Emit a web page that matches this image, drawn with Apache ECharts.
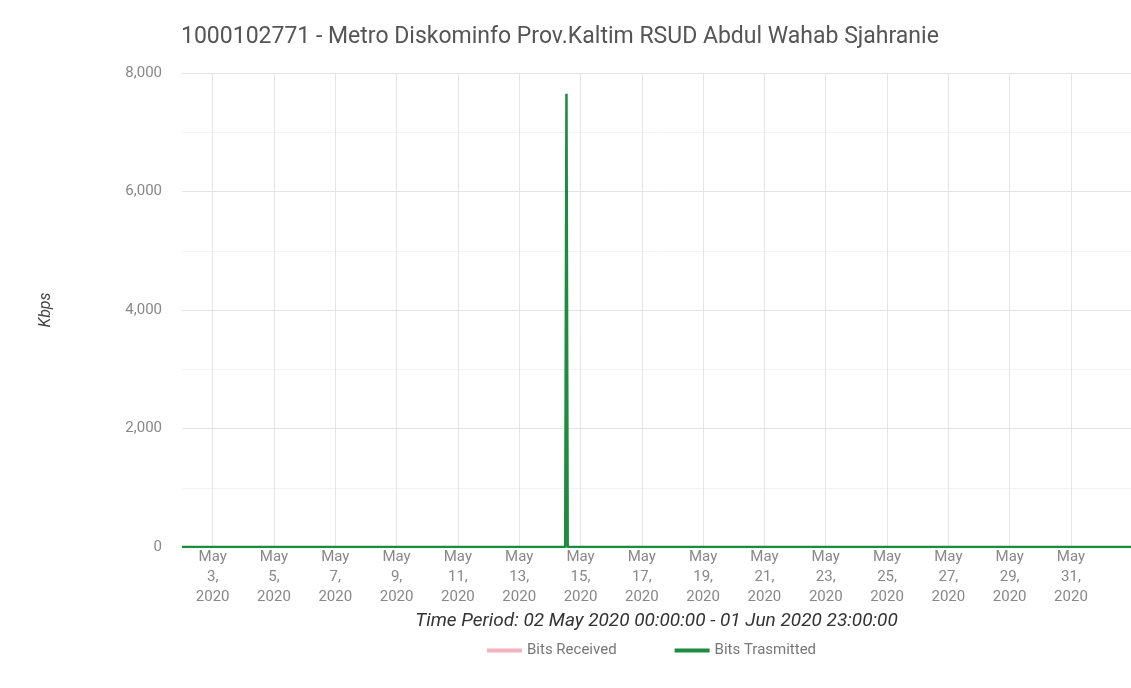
<!DOCTYPE html>
<html>
<head>
<meta charset="utf-8">
<title>Bandwidth</title>
<script src="https://cdn.jsdelivr.net/npm/echarts@6/dist/echarts.min.js"></script>
<style>
  * { margin: 0; padding: 0 }
  html, body { width: 100%; height: 100%; background: #fff; }
  #main { width: 1131px; height: 688px; }
</style>
</head>
<body>
<div id="main"></div>
<script>
  var chartTitle = '1000102771 - Metro Diskominfo Prov.Kaltim RSUD Abdul Wahab Sjahranie';
  var periodText = 'Time Period: 02 May 2020 00:00:00 - 01 Jun 2020 23:00:00';
  var seriesNames = ['Bits Received', 'Bits Trasmitted'];

  // [month(0-based), day, hour]
  var rangeStart = [4, 2, 0];
  var rangeEnd = [5, 1, 23];
  // days of May carrying a tick / label
  var tickDays = [3, 5, 7, 9, 11, 13, 15, 17, 19, 21, 23, 25, 27, 29, 31];

  // received stays flat at zero for the whole period
  var receivedTimes = [[4, 2, 0], [5, 1, 23]];
  var receivedKbps = [0, 0];

  // transmitted: flat except one spike on 14 May
  var transmittedTimes = [[4, 2, 0], [4, 14, 12], [4, 14, 13], [4, 14, 14], [5, 1, 23]];
  var transmittedKbps = [0, 0, 7650, 0, 0];

  var yTicks = [0, 2000, 4000, 6000, 8000];

  function ts(t) { return Date.UTC(2020, t[0], t[1], t[2]); }
  function pairs(times, vals) {
    return times.map(function (t, i) { return [ts(t), vals[i]]; });
  }
  var months = ['Jan','Feb','Mar','Apr','May','Jun','Jul','Aug','Sep','Oct','Nov','Dec'];

  var chart = echarts.init(document.getElementById('main'));
  var font = 'Roboto';
  chart.setOption({
    animation: false,
    textStyle: { fontFamily: font },
    title: {
      text: chartTitle,
      left: 176,
      top: 21,
      textStyle: { fontFamily: font, fontSize: 23, fontWeight: 'normal', color: '#555' }
    },
    legend: {
      data: seriesNames,
      bottom: 25,
      left: 482,
      icon: 'rect',
      itemWidth: 35,
      itemHeight: 4,
      itemGap: 58,
      textStyle: { fontFamily: font, fontSize: 15, color: '#777' }
    },
    grid: { left: 182, right: -10, top: 73, bottom: 141 },
    xAxis: {
      type: 'value',
      min: ts(rangeStart),
      max: ts(rangeEnd),
      name: periodText,
      nameLocation: 'middle',
      nameGap: 63,
      nameTextStyle: { fontFamily: font, fontSize: 19, fontStyle: 'italic', color: '#333' },
      axisLine: { show: true, lineStyle: { color: '#ddd' } },
      axisTick: { show: false, customValues: tickDays.map(function (d) { return ts([4, d, 0]); }) },
      axisLabel: {
        customValues: tickDays.map(function (d) { return ts([4, d, 0]); }),
        formatter: function (v) {
          var d = new Date(v);
          return months[d.getUTCMonth()] + '\n' + d.getUTCDate() + ',\n' + d.getUTCFullYear();
        },
        color: '#888',
        fontSize: 15,
        lineHeight: 20,
        margin: 0
      },
      splitLine: { show: true, lineStyle: { color: '#e4e4e4' } }
    },
    yAxis: {
      type: 'value',
      min: yTicks[0],
      max: yTicks[yTicks.length - 1],
      interval: 2000,
      name: 'Kbps',
      nameLocation: 'middle',
      nameRotate: 90,
      nameGap: 128,
      nameTextStyle: { fontFamily: font, fontSize: 16, fontStyle: 'italic', color: '#444' },
      axisLine: { show: false },
      axisTick: { show: false },
      axisLabel: {
        color: '#888',
        fontSize: 15,
        margin: 20,
        formatter: function (v) { return v.toLocaleString('en-US'); }
      },
      splitLine: { show: true, lineStyle: { color: '#e4e4e4' } },
      minorTick: { show: false, splitNumber: 2 },
      minorSplitLine: { show: true, lineStyle: { color: '#f2f2f2' } }
    },
    series: [
      {
        name: seriesNames[0],
        type: 'line',
        showSymbol: false,
        data: pairs(receivedTimes, receivedKbps),
        itemStyle: { color: '#f2b2bf' },
        lineStyle: { color: '#f2b2bf', width: 2 }
      },
      {
        name: seriesNames[1],
        type: 'line',
        showSymbol: false,
        data: pairs(transmittedTimes, transmittedKbps),
        itemStyle: { color: '#1e8c3f' },
        lineStyle: { color: '#1e8c3f', width: 2.5 }
      }
    ]
  });
</script>
</body>
</html>
